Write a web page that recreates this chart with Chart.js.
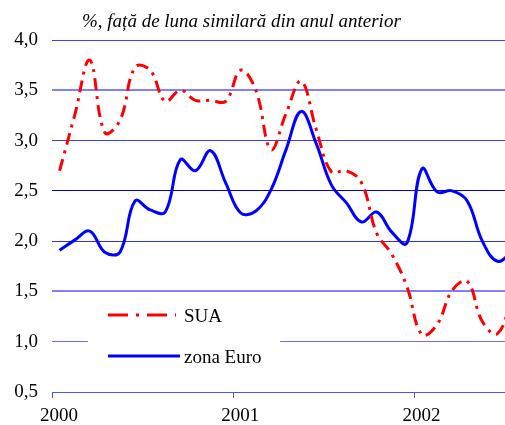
<!DOCTYPE html>
<html>
<head>
<meta charset="utf-8">
<script src="https://cdn.jsdelivr.net/npm/chart.js@4"></script>
<style>
  html, body { margin: 0; padding: 0; background: #fff; }
  canvas { display: block; }
</style>
</head>
<body>
<canvas id="grafic" width="505" height="425"></canvas>
<script>
// luni (an-luna), valori anuale % fata de luna similara din anul anterior
const luni = [
    '2000-01', '2000-02', '2000-03', '2000-04', '2000-05', '2000-06',
    '2000-07', '2000-08', '2000-09', '2000-10', '2000-11', '2000-12',
    '2001-01', '2001-02', '2001-03', '2001-04', '2001-05', '2001-06',
    '2001-07', '2001-08', '2001-09', '2001-10', '2001-11', '2001-12',
    '2002-01', '2002-02', '2002-03', '2002-04', '2002-05', '2002-06',
    '2002-07'
];
const sua = [
    2.70, 3.25, 3.80, 3.08, 3.20, 3.73, 3.70, 3.39, 3.50, 3.40, 3.40, 3.39,
    3.70, 3.50, 2.91, 3.27, 3.59, 3.11, 2.69, 2.70, 2.58, 2.08, 1.87, 1.55,
    1.07, 1.17, 1.51, 1.60, 1.20, 1.08, 1.45
];
const zonaEuro = [
    1.91, 2.01, 2.10, 1.89, 1.89, 2.40, 2.31, 2.29, 2.81, 2.70, 2.90, 2.58,
    2.28, 2.30, 2.51, 2.91, 3.29, 2.97, 2.56, 2.38, 2.19, 2.29, 2.09, 1.98,
    2.72, 2.49, 2.50, 2.40, 2.00, 1.80, 1.90
];
const ani = ['2000', '2001', '2002'];
const numeSerii = ['SUA', 'zona Euro'];
const titlu = '%, față de luna similară din anul anterior';

// pozitia pe axa x: luni de la ianuarie 2000, la mijlocul lunii
function pozitieLuna(s) {
    const [an, luna] = s.split('-').map(Number);
    return (an - 2000) * 12 + (luna - 1) + 0.5;
}
const puncte = serie => serie.map((v, i) => ({ x: pozitieLuna(luni[i]), y: v }));

const FONT = '"Liberation Serif", "Times New Roman", serif';

// culorile liniilor de grila, de jos (0,5) in sus (4,0)
const culoriGrila = ['#5050ff', '#6a6aff', '#8080ff', '#3030f0', '#0000d0', '#3c3cff', '#8080ff', '#3c3cff'];
const grosimiGrila = [1, 1, 2, 1, 1, 1, 2, 1];

const titluSiLegenda = {
    id: 'titluSiLegenda',
    afterDraw(chart) {
        const ctx = chart.ctx;
        ctx.save();
        ctx.fillStyle = '#000';
        ctx.font = 'italic 19px ' + FONT;
        ctx.textBaseline = 'alphabetic';
        ctx.fillText(titlu, 82, 27);

        // caseta legendei acopera linia de grila 1,0
        ctx.fillStyle = '#fff';
        ctx.fillRect(88, 297, 192, 84);

        const ds = chart.data.datasets;
        const randuri = [315, 356];
        ds.forEach((d, i) => {
            const y = randuri[i];
            ctx.beginPath();
            ctx.strokeStyle = d.borderColor;
            ctx.lineWidth = d.borderWidth;
            ctx.setLineDash(i === 0 ? [20, 8, 3, 8] : []);
            ctx.moveTo(108, y);
            ctx.lineTo(i === 0 ? 176 : 180, y);
            ctx.stroke();
            ctx.setLineDash([]);
            ctx.fillStyle = '#000';
            ctx.font = '19px ' + FONT;
            ctx.textBaseline = 'middle';
            ctx.fillText(d.label, 184, y + 2);
        });
        ctx.restore();
    }
};

new Chart(document.getElementById('grafic').getContext('2d'), {
    type: 'line',
    data: {
        datasets: [
            {
                label: numeSerii[0],
                data: puncte(sua),
                borderColor: '#ff0000',
                borderWidth: 3,
                borderDash: [12, 6, 3, 6],
                borderCapStyle: 'butt',
                pointRadius: 0,
                tension: 0.4,
                fill: false
            },
            {
                label: numeSerii[1],
                data: puncte(zonaEuro),
                borderColor: '#0000ff',
                borderWidth: 3,
                pointRadius: 0,
                tension: 0.4,
                fill: false
            }
        ]
    },
    options: {
        responsive: false,
        animation: false,
        devicePixelRatio: 1,
        layout: { padding: { top: 40, right: 0, left: 0, bottom: 0 } },
        plugins: {
            legend: { display: false },
            tooltip: { enabled: false },
            title: { display: false }
        },
        scales: {
            x: {
                type: 'linear',
                min: 0,
                max: 30,
                afterBuildTicks: scale => {
                    scale.ticks = ani.map((a, i) => ({ value: i * 12 }));
                },
                afterFit: scale => { scale.height = 33; },
                border: { display: true, color: '#5050ff', width: 1 },
                grid: {
                    drawOnChartArea: false,
                    drawTicks: true,
                    tickLength: 6,
                    color: '#5050ff'
                },
                ticks: {
                    autoSkip: false,
                    maxRotation: 0,
                    padding: 7,
                    labelOffset: 7,
                    color: '#000',
                    font: { family: FONT, size: 19 },
                    callback: (v, i) => ani[i]
                }
            },
            y: {
                min: 0.5,
                max: 4.0,
                afterFit: scale => { scale.width = 52; },
                border: { display: false },
                grid: {
                    drawTicks: false,
                    color: c => culoriGrila[c.index],
                    lineWidth: c => grosimiGrila[c.index]
                },
                ticks: {
                    stepSize: 0.5,
                    padding: 14,
                    color: '#000',
                    font: { family: FONT, size: 19 },
                    callback: v => v.toFixed(1).replace('.', ',')
                }
            }
        }
    },
    plugins: [titluSiLegenda]
});
</script>
</body>
</html>
